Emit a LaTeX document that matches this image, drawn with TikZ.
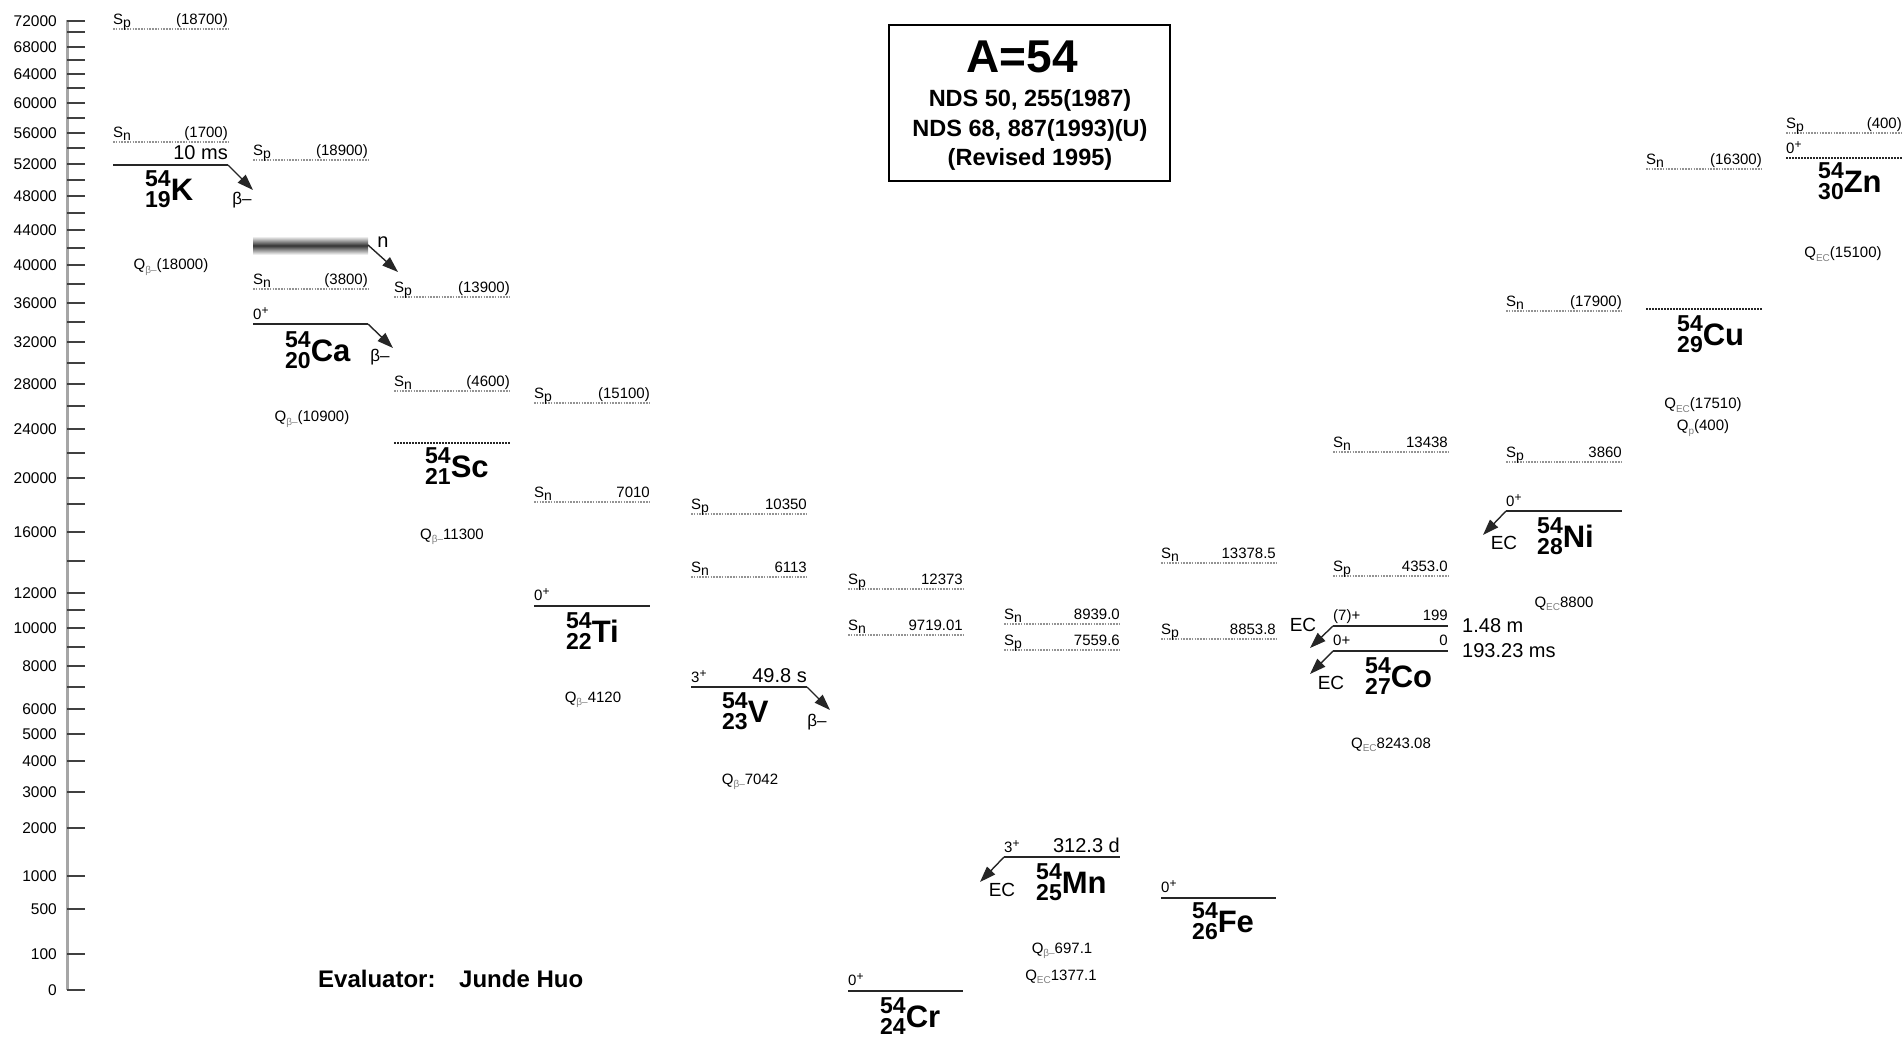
\documentclass[tikz,border=0pt]{standalone}
\usepackage{fontspec}
\setmainfont{Liberation Sans}
\usetikzlibrary{arrows.meta}

\newcommand{\nucl}[3]{{\fontsize{23}{23}\selectfont\bfseries\rlap{\raisebox{13.5pt}{#1}}\raisebox{-7pt}{#2}}{\fontsize{31}{31}\selectfont\bfseries #3}}
\newcommand{\sepl}[1]{S\raisebox{-3pt}{\fontsize{14}{14}\selectfont #1}}
\newcommand{\qsub}[1]{Q\raisebox{-3.5pt}{\fontsize{10}{10}\selectfont\color{gray}#1}}
\newcommand{\jp}[2]{#1\raisebox{4.5pt}{\fontsize{12}{12}\selectfont #2}}

\tikzset{
  lev/.style={line width=2.6pt, black!85},
  sepline/.style={gray!85, line width=2pt, dash pattern=on 1.5pt off 1.3pt},
  gsdot/.style={black!85, line width=2pt, dash pattern=on 1.6pt off 1.4pt},
  dec/.style={-{Triangle[length=16pt,width=11pt]}, line width=1.4pt, black!85},
  sm/.style={font=\fontsize{15}{15}\selectfont, inner sep=0pt},
  spin/.style={font=\fontsize{15}{15}\selectfont, inner sep=0pt},
  big/.style={font=\fontsize{20}{20}\selectfont, inner sep=0pt},
  ql/.style={font=\fontsize{15}{15}\selectfont, inner sep=0pt},
  axl/.style={font=\fontsize{15.5}{15.5}\selectfont, inner sep=0pt, anchor=east},
  tickline/.style={line width=1.8pt, black!75},
  axisline/.style={line width=3pt, gray!70},
  nuc/.style={inner sep=0pt, anchor=base west},
}

\newcommand{\sepen}[6]{%
  \coordinate (#6a) at (#1,#3); \coordinate (#6b) at (#2,#3);
  \draw[sepline] (#6a) -- (#6b);
  \node[sm, anchor=base west] (#6l) at ([yshift=5pt]#6a) {\sepl{#4}};
  \node[sm, anchor=base east] (#6v) at ([yshift=5pt]#6b) {#5};}

\begin{document}
\begin{tikzpicture}[x=1pt,y=-1pt]
\useasboundingbox (0,0) rectangle (1903,1045);

% ---------- axis ----------
\coordinate (axtop) at (67,20); \coordinate (axbot) at (67,990);
\draw[axisline] (axtop) -- (axbot);
\foreach \y/\t in {21/72000,47/68000,74/64000,103/60000,133/56000,164/52000,196/48000,230/44000,265/40000,303/36000,342/32000,384/28000,429/24000,478/20000,532/16000,593/12000,628/10000,666/8000,709/6000,734/5000,761/4000,792/3000,828/2000,876/1000,909/500,954/100,990/0}{
  \coordinate (ta\t) at (67,\y); \coordinate (tb\t) at (85,\y);
  \draw[tickline] (ta\t) -- (tb\t);
  \node[axl] (tl\t) at (57,\y) {\t};
}
\foreach \y in {32,60,88,118,148,180,213,248,284,322,363,406,453,504,561,610,647,687}{
  \coordinate (ma\y) at (67,\y); \coordinate (mb\y) at (85,\y);
  \draw[tickline] (ma\y) -- (mb\y);
}

% ---------- title box ----------
\node[draw, line width=2pt, minimum width=281pt, minimum height=156pt, inner sep=0pt] (box) at (1029.5,103) {};
\node[inner sep=0pt, anchor=base, font=\fontsize{46}{46}\selectfont\bfseries] (tA) at (1022,72) {A=54};
\node[inner sep=0pt, anchor=base, font=\fontsize{23.5}{23.5}\selectfont\bfseries] (t1) at (1030,106) {NDS 50, 255(1987)};
\node[inner sep=0pt, anchor=base, font=\fontsize{23.5}{23.5}\selectfont\bfseries] (t2) at (1030,136) {NDS 68, 887(1993)(U)};
\node[inner sep=0pt, anchor=base, font=\fontsize{23.5}{23.5}\selectfont\bfseries] (t3) at (1030,165) {(Revised 1995)};

% ---------- evaluator ----------
\node[inner sep=0pt, anchor=base west, font=\fontsize{24}{24}\selectfont\bfseries] (ev1) at (318,987) {Evaluator:};
\node[inner sep=0pt, anchor=base west, font=\fontsize{24}{24}\selectfont\bfseries] (ev2) at (459,987) {Junde Huo};

% ---------- K ----------
\sepen{113}{228}{29}{p}{(18700)}{Kp}
\sepen{113}{228}{142}{n}{(1700)}{Kn}
\coordinate (Kl) at (113,165); \coordinate (Kr) at (228,165); \coordinate (Ke) at (253,190);
\draw[lev] (Kl) -- (Kr);
\draw[dec] (Kr) -- (Ke);
\node[big, anchor=base east] (Kt) at (228,159) {10 ms};
\node[sm, font=\fontsize{17}{17}\selectfont] (Kb) at (242,200) {β–};
\node[nuc] (Klab) at (145,200) {\nucl{54}{19}{K}};
\node[ql] (Kq) at (171,267) {\qsub{β–}(18000)};

% ---------- Ca ----------
\sepen{253}{368}{160}{p}{(18900)}{Cap}
\sepen{253}{368}{289}{n}{(3800)}{Can}
\shade[top color=gray!15, bottom color=gray!15, middle color=black!80] (253,237) rectangle (368,254);
\coordinate (nb) at (368,245); \coordinate (ne) at (398,272);
\draw[dec] (nb) -- (ne);
\node[big] (nlab) at (383,242) {n};
\coordinate (Cal) at (253,324); \coordinate (Car) at (368,324); \coordinate (Cae) at (393,348);
\draw[lev] (Cal) -- (Car);
\draw[dec] (Car) -- (Cae);
\node[spin, anchor=base west] (Caj) at (253,319) {\jp{0}{+}};
\node[sm, font=\fontsize{17}{17}\selectfont] (Cab) at (380,357) {β–};
\node[nuc] (Calab) at (285,361) {\nucl{54}{20}{Ca}};
\node[ql] (Caq) at (312,419) {\qsub{β–}(10900)};

% ---------- Sc ----------
\sepen{394}{510}{297}{p}{(13900)}{Scp}
\sepen{394}{510}{391}{n}{(4600)}{Scn}
\coordinate (Scl) at (394,443); \coordinate (Scr) at (510,443);
\draw[gsdot] (Scl) -- (Scr);
\node[nuc] (Sclab) at (425,477) {\nucl{54}{21}{Sc}};
\node[ql] (Scq) at (452,537) {\qsub{β–}11300};

% ---------- Ti ----------
\sepen{534}{650}{403}{p}{(15100)}{Tip}
\sepen{534}{650}{502}{n}{7010}{Tin}
\coordinate (Til) at (534,606); \coordinate (Tir) at (650,606);
\draw[lev] (Til) -- (Tir);
\node[spin, anchor=base west] (Tij) at (534,600) {\jp{0}{+}};
\node[nuc] (Tilab) at (566,642) {\nucl{54}{22}{Ti}};
\node[ql] (Tiq) at (593,700) {\qsub{β–}4120};

% ---------- V ----------
\sepen{691}{807}{514}{p}{10350}{Vp}
\sepen{691}{807}{577}{n}{6113}{Vn}
\coordinate (Vl) at (691,687); \coordinate (Vr) at (807,687); \coordinate (Ve) at (830,710);
\draw[lev] (Vl) -- (Vr);
\draw[dec] (Vr) -- (Ve);
\node[spin, anchor=base west] (Vj) at (691,682) {\jp{3}{+}};
\node[big, anchor=base east] (Vt) at (807,682) {49.8 s};
\node[sm, font=\fontsize{17}{17}\selectfont] (Vb) at (817,722) {β–};
\node[nuc] (Vlab) at (722,722) {\nucl{54}{23}{V}};
\node[ql] (Vq) at (750,782) {\qsub{β–}7042};

% ---------- Cr ----------
\sepen{848}{963}{589}{p}{12373}{Crp}
\sepen{848}{963}{635}{n}{9719.01}{Crn}
\coordinate (Crl) at (848,991); \coordinate (Crr) at (963,991);
\draw[lev] (Crl) -- (Crr);
\node[spin, anchor=base west] (Crj) at (848,985) {\jp{0}{+}};
\node[nuc] (Crlab) at (880,1027) {\nucl{54}{24}{Cr}};

% ---------- Mn ----------
\sepen{1004}{1120}{624}{n}{8939.0}{Mnn}
\sepen{1004}{1120}{650}{p}{7559.6}{Mnp}
\coordinate (Mnl) at (1004,857); \coordinate (Mnr) at (1120,857); \coordinate (Mne) at (980,882);
\draw[lev] (Mnl) -- (Mnr);
\draw[dec] (Mnl) -- (Mne);
\node[spin, anchor=base west] (Mnj) at (1004,852) {\jp{3}{+}};
\node[big, anchor=base east] (Mnt) at (1120,852) {312.3 d};
\node[big, font=\fontsize{19}{19}\selectfont] (Mnec) at (1002,890) {EC};
\node[nuc] (Mnlab) at (1036,893) {\nucl{54}{25}{Mn}};
\node[ql] (Mnq1) at (1062,951) {\qsub{β–}697.1};
\node[ql] (Mnq2) at (1061,977) {\qsub{EC}1377.1};

% ---------- Fe ----------
\sepen{1161}{1276}{563}{n}{13378.5}{Fen}
\sepen{1161}{1276}{639}{p}{8853.8}{Fep}
\coordinate (Fel) at (1161,898); \coordinate (Fer) at (1276,898);
\draw[lev] (Fel) -- (Fer);
\node[spin, anchor=base west] (Fej) at (1161,892) {\jp{0}{+}};
\node[nuc] (Felab) at (1192,932) {\nucl{54}{26}{Fe}};

% ---------- Co ----------
\sepen{1333}{1448}{452}{n}{13438}{Con}
\sepen{1333}{1448}{576}{p}{4353.0}{Cop}
\coordinate (Co1l) at (1333,626); \coordinate (Co1r) at (1448,626); \coordinate (Co1e) at (1310,648);
\coordinate (Co0l) at (1333,651); \coordinate (Co0r) at (1448,651); \coordinate (Co0e) at (1310,674);
\draw[lev] (Co1l) -- (Co1r);
\draw[lev] (Co0l) -- (Co0r);
\draw[dec] (Co1l) -- (Co1e);
\draw[dec] (Co0l) -- (Co0e);
\node[sm, anchor=base west] (Co1j) at (1333,620) {(7)+};
\node[sm, anchor=base east] (Co1E) at (1448,620) {199};
\node[sm, anchor=base west] (Co0j) at (1333,645) {0+};
\node[sm, anchor=base east] (Co0E) at (1448,645) {0};
\node[big, anchor=west] (Co1t) at (1462,626) {1.48 m};
\node[big, anchor=west] (Co0t) at (1462,651) {193.23 ms};
\node[big, font=\fontsize{19}{19}\selectfont] (Coec1) at (1303,625) {EC};
\node[big, font=\fontsize{19}{19}\selectfont] (Coec2) at (1331,683) {EC};
\node[nuc] (Colab) at (1365,687) {\nucl{54}{27}{Co}};
\node[ql] (Coq) at (1391,745) {\qsub{EC}8243.08};

% ---------- Ni ----------
\sepen{1506}{1622}{311}{n}{(17900)}{Nin}
\sepen{1506}{1622}{462}{p}{3860}{Nip}
\coordinate (Nil) at (1506,511); \coordinate (Nir) at (1622,511); \coordinate (Nie) at (1483,535);
\draw[lev] (Nil) -- (Nir);
\draw[dec] (Nil) -- (Nie);
\node[spin, anchor=base west] (Nij) at (1506,506) {\jp{0}{+}};
\node[big, font=\fontsize{19}{19}\selectfont] (Niec) at (1504,543) {EC};
\node[nuc] (Nilab) at (1537,547) {\nucl{54}{28}{Ni}};
\node[ql] (Niq) at (1564,604) {\qsub{EC}8800};

% ---------- Cu ----------
\sepen{1646}{1762}{169}{n}{(16300)}{Cun}
\coordinate (Cul) at (1646,309); \coordinate (Cur) at (1762,309);
\draw[gsdot] (Cul) -- (Cur);
\node[nuc] (Culab) at (1677,345) {\nucl{54}{29}{Cu}};
\node[ql] (Cuq1) at (1703,405) {\qsub{EC}(17510)};
\node[ql] (Cuq2) at (1703,428) {\qsub{p}(400)};

% ---------- Zn ----------
\sepen{1786}{1902}{133}{p}{(400)}{Znp}
\coordinate (Znl) at (1786,158); \coordinate (Znr) at (1902,158);
\draw[gsdot] (Znl) -- (Znr);
\node[spin, anchor=base west] (Znj) at (1786,153) {\jp{0}{+}};
\node[nuc] (Znlab) at (1818,192) {\nucl{54}{30}{Zn}};
\node[ql] (Znq) at (1843,254) {\qsub{EC}(15100)};

\end{tikzpicture}
\end{document}
